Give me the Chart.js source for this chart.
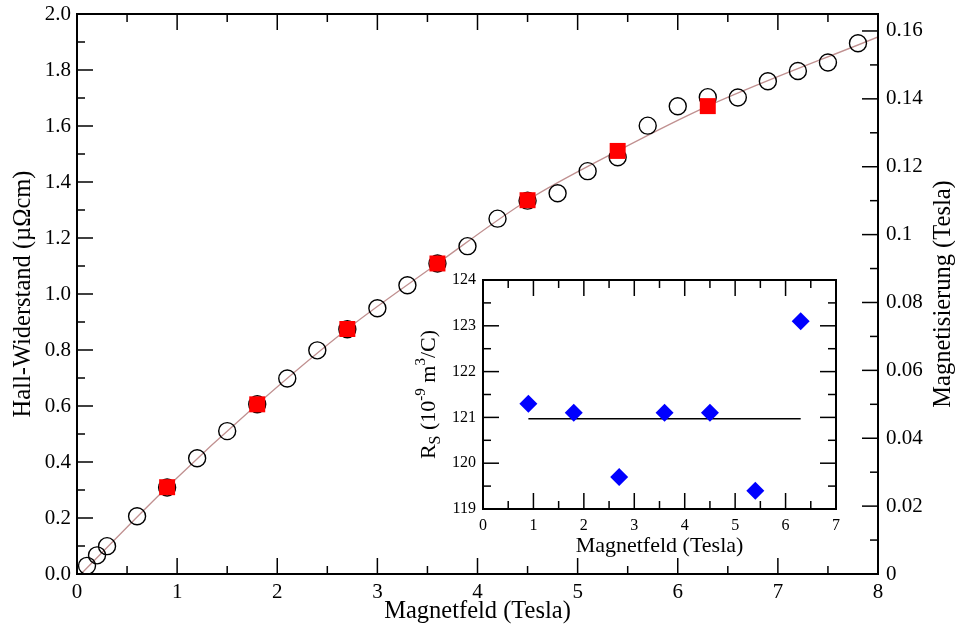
<!DOCTYPE html>
<html>
<head>
<meta charset="utf-8">
<script src="https://cdn.jsdelivr.net/npm/chart.js@4.4.0/dist/chart.umd.min.js"></script>
<style>
  body { margin: 0; background: #fff; }
  #wrap { position: relative; width: 955px; height: 632px; }
  #main { position: absolute; left: 0; top: 0; }
  #inset { position: absolute; left: 400px; top: 262px; }
  #ticks { position: absolute; left: 0; top: 0; pointer-events: none; }
</style>
</head>
<body>
<div id="wrap">
  <canvas id="main" width="955" height="632"></canvas>
  <canvas id="inset" width="455" height="300"></canvas>
  <canvas id="ticks" width="955" height="632"></canvas>
</div>
<script>
// Hall resistance (red squares), left axis
const hallField = [0.9, 1.8, 2.7, 3.6, 4.5, 5.4, 6.3];
const hallRes = [0.310, 0.606, 0.875, 1.109, 1.335, 1.511, 1.671];

// magnetisation (open circles), right axis
const magField = [0.1, 0.2, 0.3, 0.6, 0.9, 1.2, 1.5, 1.8, 2.1, 2.4, 2.7, 3.0, 3.3, 3.6,
  3.9, 4.2, 4.5, 4.8, 5.1, 5.4, 5.7, 6.0, 6.3, 6.6, 6.9, 7.2, 7.5, 7.8];
const magValues = [0.0024, 0.0055, 0.0082, 0.0170, 0.0255, 0.0341, 0.0421, 0.0500, 0.0576,
  0.0659, 0.0721, 0.0783, 0.0851, 0.0915, 0.0966, 0.1047, 0.1100, 0.1122, 0.1187, 0.1228,
  0.1321, 0.1378, 0.1405, 0.1404, 0.1452, 0.1482, 0.1507, 0.1564];

// fitted curve through the Hall data
const fitField = [0.04, 0.9, 1.8, 2.7, 3.6, 4.5, 5.4, 6.3, 8.0];
const fitRes = [0.0, 0.310, 0.606, 0.875, 1.109, 1.335, 1.511, 1.671, 1.918];

// inset: R_S per field value and its mean
const rsField = [0.9, 1.8, 2.7, 3.6, 4.5, 5.4, 6.3];
const rsValues = [121.3, 121.1, 119.7, 121.1, 121.1, 119.4, 123.1];
const rsMean = 120.97;

const SERIF = '"Liberation Serif", "DejaVu Serif", serif';

function points(xs, ys) {
  return xs.map((x, i) => ({ x: x, y: ys[i] }));
}

// no label overhang padding, so the plot box sits exactly where the layout says
function fixBox(w, h) {
  return function (s) {
    if (w !== null) s.width = w;
    if (h !== null) s.height = h;
    s.paddingTop = 0;
    s.paddingBottom = 0;
    s.paddingLeft = 0;
    s.paddingRight = 0;
  };
}

// box around the plot area
function frame(id) {
  return {
    id: id,
    afterDraw(chart) {
      const ctx = chart.ctx;
      const a = chart.chartArea;
      ctx.save();
      ctx.strokeStyle = '#000';
      ctx.lineWidth = 2;
      ctx.strokeRect(a.left, a.top, a.right - a.left, a.bottom - a.top);
      ctx.restore();
    }
  };
}

// inward major/minor ticks, painted on the top layer at the chart's offset
function drawTicks(ctx, chart, ox, oy, sides, majorLen, minorLen) {
  const a = chart.chartArea;
  ctx.save();
  ctx.translate(ox, oy);
  ctx.strokeStyle = '#000';
  ctx.lineWidth = 1.5;
  sides.forEach((s) => {
    const scale = chart.scales[s.scale];
    const horiz = s.edges[0] === 'bottom' || s.edges[0] === 'top';
    const lo = horiz ? a.left : a.top;
    const hi = horiz ? a.right : a.bottom;
    const n = Math.floor((s.max - s.min) / s.minor + 1e-6);
    for (let i = 0; i <= n; i++) {
      const v = s.min + i * s.minor;
      const len = i % 2 === 0 ? majorLen : minorLen;
      let p = scale.getPixelForValue(v);
      if (!isFinite(p) || p < lo - 1 || p > hi + 1) {
        const f = (v - s.min) / (s.max - s.min);
        p = horiz ? a.left + f * (a.right - a.left) : a.bottom - f * (a.bottom - a.top);
      }
      s.edges.forEach((e) => {
        ctx.beginPath();
        if (e === 'bottom') { ctx.moveTo(p, a.bottom); ctx.lineTo(p, a.bottom - len); }
        if (e === 'top') { ctx.moveTo(p, a.top); ctx.lineTo(p, a.top + len); }
        if (e === 'left') { ctx.moveTo(a.left, p); ctx.lineTo(a.left + len, p); }
        if (e === 'right') { ctx.moveTo(a.right, p); ctx.lineTo(a.right - len, p); }
        ctx.stroke();
      });
    }
  });
  ctx.restore();
}

// rotated text built from pieces (for sub/superscripts), reading bottom to top
function verticalText(ctx, cx, cy, parts) {
  ctx.save();
  ctx.translate(cx, cy);
  ctx.rotate(-Math.PI / 2);
  ctx.fillStyle = '#000';
  ctx.textBaseline = 'alphabetic';
  const widths = parts.map((p) => {
    ctx.font = p.size + 'px ' + SERIF;
    return ctx.measureText(p.t).width;
  });
  let x = -widths.reduce((s, w) => s + w, 0) / 2;
  parts.forEach((p, i) => {
    ctx.font = p.size + 'px ' + SERIF;
    ctx.fillText(p.t, x, p.dy);
    x += widths[i];
  });
  ctx.restore();
}

const rightTitle = {
  id: 'rightTitle',
  afterDraw(chart) {
    const a = chart.chartArea;
    verticalText(chart.ctx, 950, (a.top + a.bottom) / 2, [{ t: 'Magnetisierung (Tesla)', size: 24.5, dy: 0 }]);
  }
};

const rsTitle = {
  id: 'rsTitle',
  afterDraw(chart) {
    const a = chart.chartArea;
    verticalText(chart.ctx, 35, (a.top + a.bottom) / 2, [
      { t: 'R', size: 22, dy: 0 },
      { t: 'S', size: 16, dy: 5 },
      { t: ' (10', size: 22, dy: 0 },
      { t: '-9', size: 15, dy: -10 },
      { t: ' m', size: 22, dy: 0 },
      { t: '3', size: 15, dy: -10 },
      { t: '/C)', size: 22, dy: 0 }
    ]);
  }
};

const tickFont = { family: SERIF, size: 21 };
const titleFont = { family: SERIF, size: 24.5 };
const smallFont = { family: SERIF, size: 16 };

const mainChart = new Chart(document.getElementById('main'), {
  type: 'scatter',
  data: {
    datasets: [
      {
        label: 'Hall-Widerstand',
        data: points(hallField, hallRes),
        yAxisID: 'y',
        pointStyle: 'rect',
        pointRadius: 11.3,
        backgroundColor: '#ff0000',
        borderWidth: 0
      },
      {
        label: 'Magnetisierung',
        data: points(magField, magValues),
        yAxisID: 'y1',
        pointStyle: 'circle',
        pointRadius: 8.5,
        backgroundColor: 'rgba(0,0,0,0)',
        borderColor: '#000',
        borderWidth: 1.4
      },
      {
        label: 'Fit',
        data: points(fitField, fitRes),
        yAxisID: 'y',
        showLine: true,
        cubicInterpolationMode: 'monotone',
        borderColor: '#c09090',
        borderWidth: 1.3,
        pointRadius: 0
      }
    ]
  },
  options: {
    responsive: false,
    animation: false,
    layout: { padding: { top: 14, left: 0, right: 0, bottom: 0 } },
    plugins: { legend: { display: false }, tooltip: { enabled: false } },
    scales: {
      x: {
        type: 'linear', position: 'bottom', min: 0, max: 8,
        ticks: { stepSize: 1, font: tickFont, color: '#000', padding: 6, maxRotation: 0 },
        grid: { display: false, drawTicks: false }, border: { display: false },
        title: { display: true, text: 'Magnetfeld (Tesla)', font: titleFont, color: '#000', padding: { top: 0, bottom: 6 } },
        afterFit: fixBox(null, 58)
      },
      y: {
        position: 'left', min: 0, max: 2,
        ticks: { stepSize: 0.2, font: tickFont, color: '#000', padding: 6, callback: (v) => v.toFixed(1) },
        grid: { display: false, drawTicks: false }, border: { display: false },
        title: { display: true, text: 'Hall-Widerstand (µΩcm)', font: titleFont, color: '#000', padding: { top: 9, bottom: 0 } },
        afterFit: fixBox(77, null)
      },
      y1: {
        position: 'right', min: 0, max: 0.165,
        ticks: { stepSize: 0.02, includeBounds: false, font: tickFont, color: '#000', padding: 8,
          callback: (v) => String(+v.toFixed(2)) },
        grid: { display: false, drawTicks: false }, border: { display: false },
        afterFit: fixBox(77, null)
      }
    }
  },
  plugins: [frame('mainFrame'), rightTitle]
});

const insetChart = new Chart(document.getElementById('inset'), {
  type: 'scatter',
  data: {
    datasets: [
      {
        label: 'R_S',
        data: points(rsField, rsValues),
        pointStyle: 'rectRot',
        pointRadius: 9,
        backgroundColor: '#0000ff',
        borderWidth: 0
      },
      {
        label: 'Mittelwert',
        data: [{ x: rsField[0], y: rsMean }, { x: rsField[rsField.length - 1], y: rsMean }],
        showLine: true,
        borderColor: '#000',
        borderWidth: 1.5,
        pointRadius: 0
      }
    ]
  },
  options: {
    responsive: false,
    animation: false,
    layout: { padding: { top: 18, left: 0, right: 19, bottom: 0 } },
    plugins: { legend: { display: false }, tooltip: { enabled: false } },
    scales: {
      x: {
        type: 'linear', min: 0, max: 7,
        ticks: { stepSize: 1, font: smallFont, color: '#000', padding: 7, maxRotation: 0 },
        grid: { display: false, drawTicks: false }, border: { display: false },
        title: { display: true, text: 'Magnetfeld (Tesla)', font: { family: SERIF, size: 22 }, color: '#000', padding: { top: 0, bottom: 3 } },
        afterFit: fixBox(null, 53)
      },
      y: {
        min: 119, max: 124,
        ticks: { stepSize: 1, font: smallFont, color: '#000', padding: 7 },
        grid: { display: false, drawTicks: false }, border: { display: false },
        afterFit: fixBox(83, null)
      }
    }
  },
  plugins: [frame('insetFrame'), rsTitle]
});

// tick marks for both plots on the top layer
const tctx = document.getElementById('ticks').getContext('2d');
drawTicks(tctx, mainChart, 0, 0, [
  { scale: 'x', min: 0, max: 8, minor: 0.5, edges: ['bottom', 'top'] },
  { scale: 'y', min: 0, max: 2, minor: 0.1, edges: ['left'] },
  { scale: 'y1', min: 0, max: 0.165, minor: 0.01, edges: ['right'] }
], 16, 8);
drawTicks(tctx, insetChart, 400, 262, [
  { scale: 'x', min: 0, max: 7, minor: 0.5, edges: ['bottom', 'top'] },
  { scale: 'y', min: 119, max: 124, minor: 0.5, edges: ['left', 'right'] }
], 16, 8);
</script>
</body>
</html>
